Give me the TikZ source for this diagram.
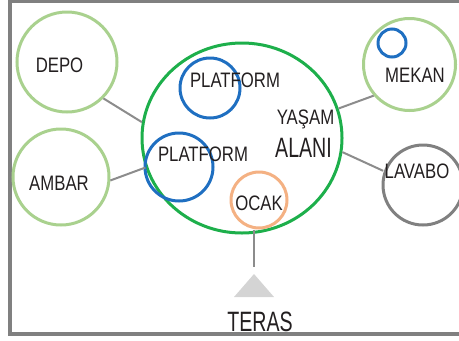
\documentclass[tikz,border=0pt]{standalone}
\usepackage{fontspec}
\newfontfamily\roomfont{Liberation Sans}[FakeStretch=0.8]
\newfontfamily\roombigfont{Liberation Sans}[FakeStretch=0.7]
\usetikzlibrary{shapes, positioning, calc}
\definecolor{leafgreen}{HTML}{A9D18E}
\definecolor{livegreen}{HTML}{1DAF4B}
\definecolor{platblue}{HTML}{1F6FC1}
\definecolor{hearth}{HTML}{F4B183}
\definecolor{linkgray}{HTML}{8C8C8C}
\definecolor{framegray}{HTML}{808080}
\definecolor{terasgray}{HTML}{D4D4D4}
\definecolor{textdark}{HTML}{231F20}
\tikzstyle{every room} = []
\tikzstyle{room} = [circle, draw, inner sep=0pt, line width=2.25pt, every room]
\tikzstyle{outer room} = [room, draw=leafgreen]
\tikzstyle{platform} = [room, draw=platblue]
\tikzstyle{label text} = [inner sep=1pt, anchor=base, text=textdark, font={\roomfont\fontsize{15.7}{18}\selectfont}]
\tikzstyle{big text} = [label text, font={\roombigfont\fontsize{21}{24}\selectfont}]
\tikzstyle{link} = [draw=linkgray, line width=1.5pt]

\begin{document}
\begin{tikzpicture}[x=0.75pt, y=-0.75pt]
  \useasboundingbox (0,0) rectangle (459,340);
  % frame
  \draw[framegray, line width=3pt] (459,1) -- (10,1) -- (10,334) -- (459,334);

  %Nodes
  \node[ellipse, draw=livegreen, line width=2.25pt, minimum width=150pt, minimum height=142.5pt] (living) at (242,138) {};
  \node[outer room, minimum size=75pt] (depo) at (67,62) {};
  \node[outer room, minimum size=72pt] (ambar) at (61,177) {};
  \node[outer room, minimum size=69pt] (mekan) at (409.5,64.5) {};
  \node[room, draw=framegray, minimum size=60pt] (lavabo) at (423,185) {};
  \node[platform, minimum size=45pt] (platup) at (210,88) {};
  \node[platform, minimum size=51pt] (platlow) at (179,167) {};
  \node[platform, minimum size=21pt] (mekanpool) at (392,43) {};
  \node[room, draw=hearth, minimum size=42pt] (ocak) at (259,200) {};
  \coordinate (tri) at (254,274);

  \node[label text] (depotext) at (59.5,72) {DEPO};
  \node[label text] (ambartext) at (59,190) {AMBAR};
  \node[label text] (mekantext) at (415,82) {MEKAN};
  \node[label text] (lavabotext) at (417,178) {LAVABO};
  \node[label text] (platuptext) at (235,87) {PLATFORM};
  \node[label text] (platlowtext) at (203,161) {PLATFORM};
  \node[label text] (yasamtext) at (305.5,124) {YAŞAM};
  \node[big text] (alanitext) at (303.5,157) {ALANI};
  \node[label text] (ocaktext) at (259,210) {OCAK};
  \node[big text] (terastext) at (260,331) {TERAS};

  %Lines
  \draw[link] (depo.-45) -- (living.171);
  \draw[link] (ambar.-4) -- (living.197);
  \draw[link] (mekan.221) -- (living.17);
  \draw[link] (living.-8) -- (lavabotext.west);
  \draw[link, shorten >=5pt] (ocak.south -| tri) -- (tri);
  \fill[terasgray] (tri) -- ++(-20,23) -- ++(40,0) -- cycle;
\end{tikzpicture}
\end{document}
